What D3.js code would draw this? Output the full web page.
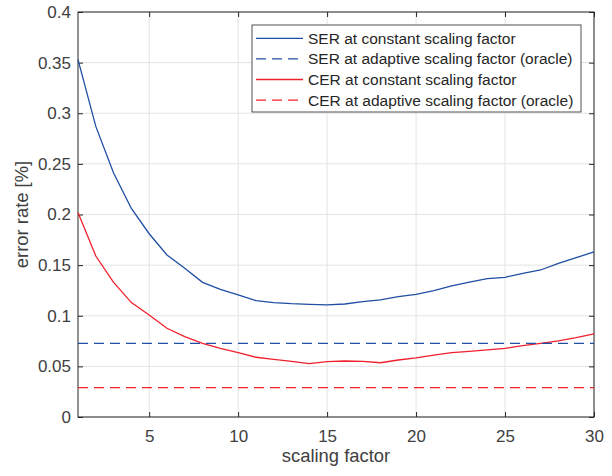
<!DOCTYPE html>
<html>
<head>
<meta charset="utf-8">
<style>
body { margin: 0; background: #fff; }
text { font-family: "Liberation Sans", Arial, sans-serif; }
</style>
</head>
<body>
<script src="https://cdn.jsdelivr.net/npm/d3@7"></script>
<script>

// data
var scaling = d3.range(1, 31);
var serConst = [0.353, 0.287, 0.241, 0.206, 0.181, 0.160, 0.147, 0.133, 0.126, 0.1205,
                0.1149, 0.1129, 0.1119, 0.1113, 0.1108, 0.1116, 0.1139, 0.1156, 0.1188, 0.1212,
                0.1248, 0.1294, 0.1333, 0.1366, 0.138, 0.1419, 0.1452, 0.1518, 0.1574, 0.163];
var cerConst = [0.202, 0.159, 0.133, 0.113, 0.1007, 0.0876, 0.0793, 0.0728, 0.0678, 0.0635,
                0.059, 0.057, 0.055, 0.0527, 0.0546, 0.0553, 0.055, 0.0536, 0.0563, 0.0583,
                0.0612, 0.0635, 0.0649, 0.0662, 0.0678, 0.0704, 0.0728, 0.0751, 0.0783, 0.082];
var serOracle = 0.0728;
var cerOracle = 0.029;
var xTicks = [5, 10, 15, 20, 25, 30];
var yTicks = [0, 0.05, 0.1, 0.15, 0.2, 0.25, 0.3, 0.35, 0.4];
var legendLabels = ["SER at constant scaling factor",
                    "SER at adaptive scaling factor (oracle)",
                    "CER at constant scaling factor",
                    "CER at adaptive scaling factor (oracle)"];

var width = 612, height = 476;
var margin = {left: 78, right: 18, top: 12, bottom: 59};
var blue = "#1f4ea3", red = "#f0202c", axisColor = "#262626", textColor = "#404040";

var svg = d3.select("body").append("svg")
    .attr("width", width)
    .attr("height", height);

var x = d3.scaleLinear().domain([1, 30]).range([margin.left, width - margin.right]);
var y = d3.scaleLinear().domain([0, 0.4]).range([height - margin.bottom, margin.top]);

// grid
var grid = svg.append("g");
grid.selectAll(".gx").data(xTicks).enter().append("line")
    .attr("x1", d => x(d)).attr("x2", d => x(d))
    .attr("y1", y(0)).attr("y2", y(0.4))
    .attr("stroke", "#e3e3e3").attr("stroke-width", 1);
grid.selectAll(".gy").data(yTicks).enter().append("line")
    .attr("y1", d => y(d)).attr("y2", d => y(d))
    .attr("x1", x(1)).attr("x2", x(30))
    .attr("stroke", "#e3e3e3").attr("stroke-width", 1);

// axes, ticks inside on all sides
function styleAxis(g) {
  g.select(".domain").remove();
  g.selectAll(".tick line").attr("stroke", axisColor);
  g.selectAll(".tick text").attr("fill", textColor).style("font-size", "17px")
    .style("font-family", "'Liberation Sans', Arial, sans-serif");
}
svg.append("g").attr("transform", "translate(0," + y(0) + ")")
    .call(d3.axisBottom(x).tickValues(xTicks).tickSize(-5).tickPadding(13))
    .call(styleAxis);
svg.append("g").attr("transform", "translate(0," + y(0.4) + ")")
    .call(d3.axisTop(x).tickValues(xTicks).tickSize(-5).tickFormat(""))
    .call(styleAxis);
svg.append("g").attr("transform", "translate(" + x(1) + ",0)")
    .call(d3.axisLeft(y).tickValues(yTicks).tickSize(-5).tickPadding(7).tickFormat(d3.format("")))
    .call(styleAxis);
svg.append("g").attr("transform", "translate(" + x(30) + ",0)")
    .call(d3.axisRight(y).tickValues(yTicks).tickSize(-5).tickFormat(""))
    .call(styleAxis);

svg.append("rect")
    .attr("x", x(1)).attr("y", y(0.4))
    .attr("width", x(30) - x(1)).attr("height", y(0) - y(0.4))
    .attr("fill", "none").attr("stroke", axisColor).attr("stroke-width", 1);

// lines
var line = d3.line().x((d, i) => x(scaling[i])).y(d => y(d));
svg.append("path").datum(serConst).attr("d", line)
    .attr("fill", "none").attr("stroke", blue).attr("stroke-width", 1.3);
svg.append("path").datum(cerConst).attr("d", line)
    .attr("fill", "none").attr("stroke", red).attr("stroke-width", 1.3);
svg.append("line")
    .attr("x1", x(1)).attr("x2", x(30)).attr("y1", y(serOracle)).attr("y2", y(serOracle))
    .attr("stroke", blue).attr("stroke-width", 1.3).attr("stroke-dasharray", "10,6");
svg.append("line")
    .attr("x1", x(1)).attr("x2", x(30)).attr("y1", y(cerOracle)).attr("y2", y(cerOracle))
    .attr("stroke", red).attr("stroke-width", 1.3).attr("stroke-dasharray", "10,6");

// axis labels
svg.append("text")
    .attr("x", (x(1) + x(30)) / 2).attr("y", 462)
    .attr("text-anchor", "middle").attr("fill", textColor)
    .style("font-size", "18.4px").text("scaling factor");
svg.append("text")
    .attr("transform", "translate(28," + ((y(0) + y(0.4)) / 2) + ") rotate(-90)")
    .attr("text-anchor", "middle").attr("fill", textColor)
    .style("font-size", "18.4px").text("error rate [%]");

// legend
var legend = svg.append("g").attr("transform", "translate(252,25)");
legend.append("rect")
    .attr("width", 329).attr("height", 87)
    .attr("fill", "#fff").attr("stroke", axisColor).attr("stroke-width", 0.8);
var legendColors = [blue, blue, red, red];
var legendDash = [null, "10,6", null, "10,6"];
var row = legend.selectAll(".row").data(legendLabels).enter().append("g")
    .attr("transform", (d, i) => "translate(0," + (13.3 + i * 20.6) + ")");
row.append("line")
    .attr("x1", 4).attr("x2", 51).attr("y1", 0).attr("y2", 0)
    .attr("stroke", (d, i) => legendColors[i]).attr("stroke-width", 1.3)
    .attr("stroke-dasharray", (d, i) => legendDash[i]);
row.append("text")
    .attr("x", 56).attr("dy", "0.35em").attr("fill", "#262626")
    .style("font-size", "15.5px").text(d => d);

</script>
</body>
</html>
